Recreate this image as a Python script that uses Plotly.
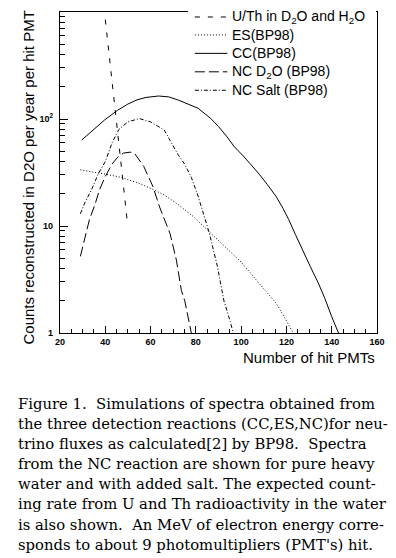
import plotly.graph_objects as go

# ---- data ----
ut_x = [40, 42, 44, 46, 48, 49.7]
ut_y = [850, 360, 145, 58, 24, 11]

es_x = [29, 35, 40, 47, 55, 61, 66, 72, 79, 86.5, 94.5, 100, 108, 115.5, 120, 123]
es_y = [33.5, 32, 30.5, 28.5, 25, 22, 19.5, 16, 12.2, 8.6, 6.0, 4.6, 2.9, 1.9, 1.3, 1.0]

cc_x = [29.6, 35, 39.7, 45.5, 50, 54, 58, 63.5, 68, 72, 76, 81, 86.6, 90, 93.8, 97, 101,
        105, 108, 111.5, 115.5, 118.5, 121, 124, 127, 130.5, 134, 137, 140, 143]
cc_y = [63.6, 80, 98, 121, 138, 151, 159, 164, 161, 151, 140, 126, 101, 85, 68, 55, 45,
        36.5, 30.5, 24.5, 18.8, 14.6, 11.5, 8.3, 6.0, 4.2, 2.95, 2.1, 1.42, 1.0]

nc_x = [29, 31, 33, 35.5, 37.5, 40, 43, 45.5, 48, 51, 53, 57, 61, 64, 66.5, 68.6, 71.4,
        73.6, 75.1, 77.2, 78]
nc_y = [5.2, 8, 11.5, 16, 22, 29, 38, 44, 48, 49, 47.5, 36, 23.5, 15, 11, 8.5, 4.8,
        2.5, 2.0, 1.15, 1.0]

salt_x = [29, 31, 34, 37, 40, 43, 46, 50, 55, 60, 66, 70, 72, 75, 78, 81, 84, 86, 89.5,
          92.4, 95.2, 96.5]
salt_y = [13, 16.5, 22, 31, 40, 60, 80, 94, 101, 94, 79, 57, 47, 38, 28.5, 19, 11.5, 8.5,
          4.2, 2.0, 1.28, 1.0]

series_names = ["U/Th in D<sub>2</sub>O and H<sub>2</sub>O", "ES(BP98)", "CC(BP98)",
                "NC D<sub>2</sub>O (BP98)", "NC Salt (BP98)"]

x_tickvals = [20, 40, 60, 80, 100, 120, 140, 160]
y_tickvals = [1, 10, 100]
y_ticktext = ["1", "10", "10<sup>2</sup>"]
y_minor = [2, 3, 4, 5, 6, 7, 8, 9, 20, 30, 40, 50, 60, 70, 80, 90,
           200, 300, 400, 500, 600, 700, 800, 900]

x_title = "Number of hit PMTs"
y_title = "Counts reconstructed in D2O per year per hit PMT"

caption_lines = [
    "Figure 1.  Simulations of spectra obtained from",
    "the three detection reactions (CC,ES,NC)for neu-",
    "trino fluxes as calculated[2] by BP98.  Spectra",
    "from the NC reaction are shown for pure heavy",
    "water and with added salt. The expected count-",
    "ing rate from U and Th radioactivity in the water",
    "is also shown.  An MeV of electron energy corre-",
    "sponds to about 9 photomultipliers (PMT's) hit.",
]

# ---- layout geometry (pixels) ----
W, H = 396, 558
ML, MR, MT, MB = 60, 14, 11, 225
PW, PH = W - ML - MR, H - MT - MB


def px_x(p):
    return (p - ML) / PW


def px_y(p):
    return (H - MB - p) / PH


# ---- figure ----
dashes = ["5px,8px", "1px,2px", "solid", "10px,4px", "4px,2px,1px,2px"]
xs = [ut_x, es_x, cc_x, nc_x, salt_x]
ys = [ut_y, es_y, cc_y, nc_y, salt_y]

fig = go.Figure()
for name, x, y, d in zip(series_names, xs, ys, dashes):
    fig.add_trace(go.Scatter(x=x, y=y, mode="lines", name=name, showlegend=False,
                             line=dict(color="black", width=1, dash=d)))

sans = "Liberation Sans, Arial, Helvetica, sans-serif"
serif = "DejaVu Serif, serif"

fig.update_layout(
    width=W, height=H,
    margin=dict(l=ML, r=MR, t=MT, b=MB),
    paper_bgcolor="white", plot_bgcolor="white",
    showlegend=False,
    font=dict(family=sans, color="black"),
)
fig.update_xaxes(range=[20, 160], showline=True, linecolor="black", linewidth=1.2,
                 mirror=True, showgrid=False, zeroline=False,
                 ticks="inside", ticklen=7, tickcolor="black", tickwidth=1,
                 tickvals=x_tickvals,
                 tickfont=dict(family=sans, size=9, color="black", weight="bold"),
                 minor=dict(ticks="inside", ticklen=4, dtick=5, tick0=20,
                            tickcolor="black", tickwidth=1, showgrid=False))
fig.update_yaxes(type="log", range=[0, 3], showline=True, linecolor="black",
                 linewidth=1.2, mirror=True, showgrid=False, zeroline=False,
                 ticks="inside", ticklen=8, tickcolor="black", tickwidth=1,
                 tickvals=y_tickvals, ticktext=y_ticktext, ticklabelstandoff=4,
                 tickfont=dict(family=sans, size=9, color="black", weight="bold"),
                 minor=dict(ticks="inside", ticklen=5, tickvals=y_minor,
                            tickcolor="black", tickwidth=1, showgrid=False))

# legend box (white, covering the frame's top edge like the original)
fig.add_shape(type="rect", xref="paper", yref="paper", layer="above",
              x0=px_x(190), x1=px_x(381), y0=px_y(97), y1=px_y(2),
              line=dict(width=0), fillcolor="white")

# legend (drawn by hand so rows can sit tight in the top-right corner)
leg_rows = [16, 34, 52.5, 71, 89.5]
for name, d, ry in zip(series_names, dashes, leg_rows):
    fig.add_shape(type="line", xref="paper", yref="paper", layer="above",
                  x0=px_x(197), x1=px_x(230), y0=px_y(ry), y1=px_y(ry),
                  line=dict(color="black", width=1, dash=d))
    fig.add_annotation(text=name, xref="paper", yref="paper",
                       x=px_x(233), y=px_y(ry), xanchor="left", yanchor="middle",
                       showarrow=False,
                       font=dict(family=sans, size=14, color="black"))

# axis titles
fig.add_annotation(text=x_title, xref="paper", yref="paper", x=1, y=0,
                   xanchor="right", yanchor="middle", yshift=-24, showarrow=False,
                   font=dict(family=sans, size=15, color="black"))
fig.add_annotation(text=y_title, xref="paper", yref="paper", x=0, y=0.5,
                   xanchor="center", yanchor="middle", xshift=-32, yshift=-5,
                   textangle=-90, showarrow=False,
                   font=dict(family=sans, size=15, color="black"))

# caption
for i, line in enumerate(caption_lines):
    fig.add_annotation(text=line, xref="paper", yref="paper",
                       x=px_x(15), y=px_y(404 + 20.1 * i),
                       xanchor="left", yanchor="middle", showarrow=False,
                       font=dict(family=serif, size=14.8, color="black"))

fig.write_html("out.html",
               config={"displayModeBar": False},
               post_script="document.body.style.margin='0';"
                           "document.body.style.overflow='hidden';")
